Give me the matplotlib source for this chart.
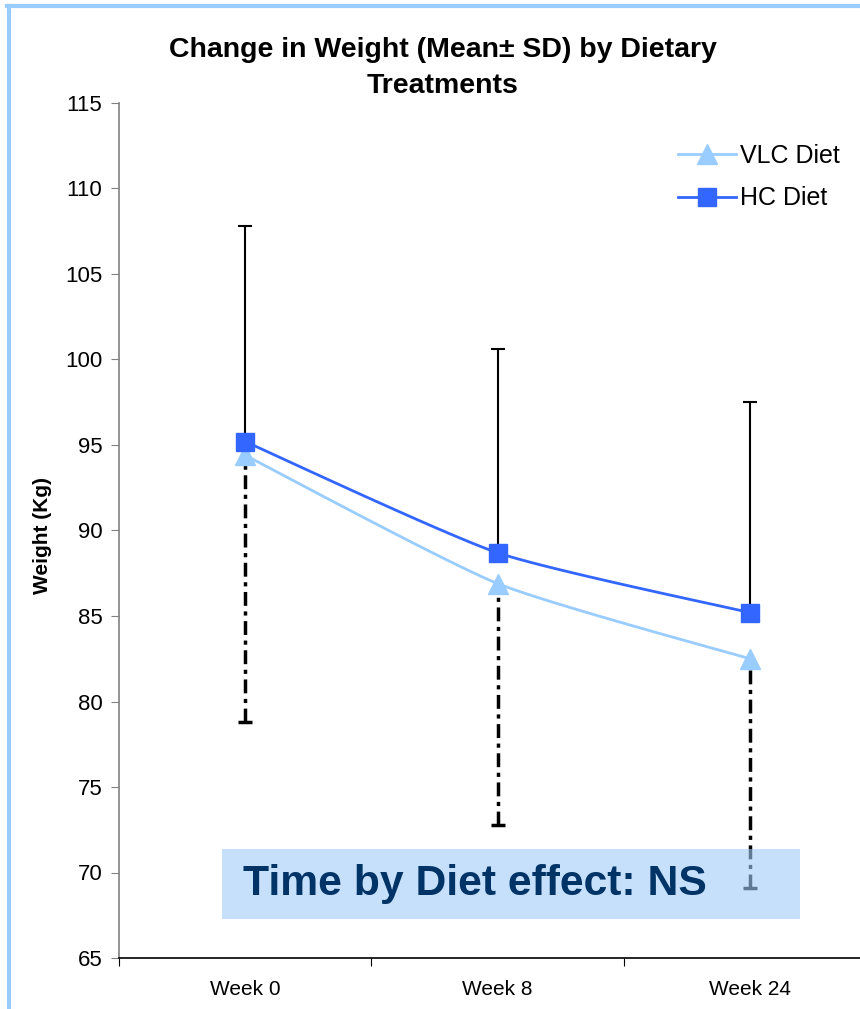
import numpy as np
import matplotlib
matplotlib.use("Agg")
import matplotlib.pyplot as plt
from matplotlib.patches import Rectangle
from matplotlib.lines import Line2D

plt.rcParams['font.family'] = ['Liberation Sans', 'DejaVu Sans']

categories = ["Week 0", "Week 8", "Week 24"]
vlc_mean = [94.4, 86.9, 82.5]
vlc_sd = [15.6, 14.1, 13.4]
hc_mean = [95.2, 88.7, 85.2]
hc_sd = [12.6, 11.9, 12.3]
title = "Change in Weight (Mean\u00b1 SD) by Dietary\nTreatments"
ylabel = "Weight (Kg)"
annotation = "Time by Diet effect: NS"

VLC_C = "#99ccff"
HC_C = "#3366ff"

W, H = 860, 1009
fig = plt.figure(figsize=(W / 100, H / 100), dpi=100)

# figure border (light blue, left and top)
fig.add_artist(Line2D([9 / W, 9 / W], [0, 1 - 6 / H], transform=fig.transFigure, color=VLC_C, lw=3))
fig.add_artist(Line2D([7 / W, 1], [1 - 6 / H, 1 - 6 / H], transform=fig.transFigure, color=VLC_C, lw=3))

ax_l, ax_r = 119, 876
ax_t, ax_b = 103, 958
ax = fig.add_axes([ax_l / W, 1 - ax_b / H, (ax_r - ax_l) / W, (ax_b - ax_t) / H])
ax.set_xlim(-0.5, 2.5)
ax.set_ylim(65, 115)

x = np.arange(len(categories))
px_per_x = (ax_r - ax_l) / 3.0
px_per_y = (ax_b - ax_t) / 50.0


def smooth(xs, ys, n=60, k=10.0):
    xs = np.asarray(xs, float) * px_per_x
    ys = np.asarray(ys, float) * px_per_y
    P = np.column_stack([xs, ys])
    out = []
    for i in range(len(P) - 1):
        p0 = P[i - 1] if i > 0 else P[i]
        p1 = P[i]
        p2 = P[i + 1]
        p3 = P[i + 2] if i + 2 < len(P) else P[i + 1]
        c1 = p1 + (p2 - p0) / k
        c2 = p2 - (p3 - p1) / k
        t = np.linspace(0, 1, n)[:, None]
        seg = (1 - t) ** 3 * p1 + 3 * (1 - t) ** 2 * t * c1 + 3 * (1 - t) * t ** 2 * c2 + t ** 3 * p2
        out.append(seg if i == 0 else seg[1:])
    out = np.vstack(out)
    return out[:, 0] / px_per_x, out[:, 1] / px_per_y


def hide_cap_at_mean(eb, means):
    for cl in eb[1]:
        yd = np.asarray(cl.get_ydata(), float)
        if np.allclose(yd, means):
            cl.set_visible(False)

# error bars
eb_hc = ax.errorbar(x, hc_mean, yerr=[np.zeros(3), hc_sd], fmt='none', ecolor='black',
                    elinewidth=1.5, capsize=5, capthick=1.5, zorder=2)
hide_cap_at_mean(eb_hc, hc_mean)
eb = ax.errorbar(x, vlc_mean, yerr=[vlc_sd, np.zeros(3)], fmt='none', ecolor='black',
                 elinewidth=2.5, capsize=5, capthick=2.5, zorder=2)
hide_cap_at_mean(eb, vlc_mean)
for lc in eb[2]:
    lc.set_linestyle((0, (4, 1.6, 1.2, 1.6)))

# smoothed lines
sx, sy = smooth(x, vlc_mean)
ax.plot(sx, sy, color=VLC_C, lw=2, zorder=3)
sx, sy = smooth(x, hc_mean)
ax.plot(sx, sy, color=HC_C, lw=2, zorder=3)
ax.plot(x, vlc_mean, linestyle='none', marker='^', ms=15, color=VLC_C, mec=VLC_C, zorder=4)
ax.plot(x, hc_mean, linestyle='none', marker='s', ms=12.5, color=HC_C, mec=HC_C, zorder=5)

# annotation box (semi-transparent)
box_l, box_r, box_t, box_b = 222, 800, 849, 919
fig.add_artist(Rectangle((box_l / W, 1 - box_b / H), (box_r - box_l) / W, (box_b - box_t) / H,
                         transform=fig.transFigure, facecolor="#a0cbf7", alpha=0.6,
                         edgecolor='none', zorder=10))
fig.text(243 / W, 1 - 884 / H, annotation, fontsize=30.7, fontweight='bold', color="#003366",
         ha='left', va='center', zorder=11)

# axes styling
for s in ['top', 'right']:
    ax.spines[s].set_visible(False)
ax.spines['left'].set_color('#808080')
ax.spines['left'].set_linewidth(1.2)
ax.spines['bottom'].set_color('black')
ax.spines['bottom'].set_linewidth(1.2)
ax.set_yticks(np.arange(65, 116, 5))
ax.tick_params(axis='y', direction='out', length=6, color='#808080', labelsize=16, pad=6)
ax.set_xticks([-0.5, 0.5, 1.5, 2.5])
ax.set_xticklabels([])
ax.tick_params(axis='x', which='major', direction='out', length=6, color='black')
ax.set_xticks(x, minor=True)
ax.set_xticklabels(categories, minor=True)
ax.tick_params(axis='x', which='minor', length=0, labelsize=15, pad=16)

fig.text(42 / W, 1 - 536 / H, ylabel, rotation=90, fontsize=15, fontweight='bold',
         ha='center', va='center')
fig.text(443 / W, 1 - 68 / H, title, fontsize=20.5, fontweight='bold', ha='center',
         va='center', linespacing=1.5)

handles = [Line2D([], [], color=VLC_C, lw=2, marker='^', ms=15, mec=VLC_C),
           Line2D([], [], color=HC_C, lw=2, marker='s', ms=12.5, mec=HC_C)]
fig.legend(handles, ["VLC Diet", "HC Diet"], loc='center left', bbox_to_anchor=(678 / W, 1 - 177 / H),
           frameon=False, fontsize=18, handlelength=2.3, handletextpad=0.2, labelspacing=0.75,
           borderpad=0, borderaxespad=0)

fig.savefig("out.png", dpi=100)
